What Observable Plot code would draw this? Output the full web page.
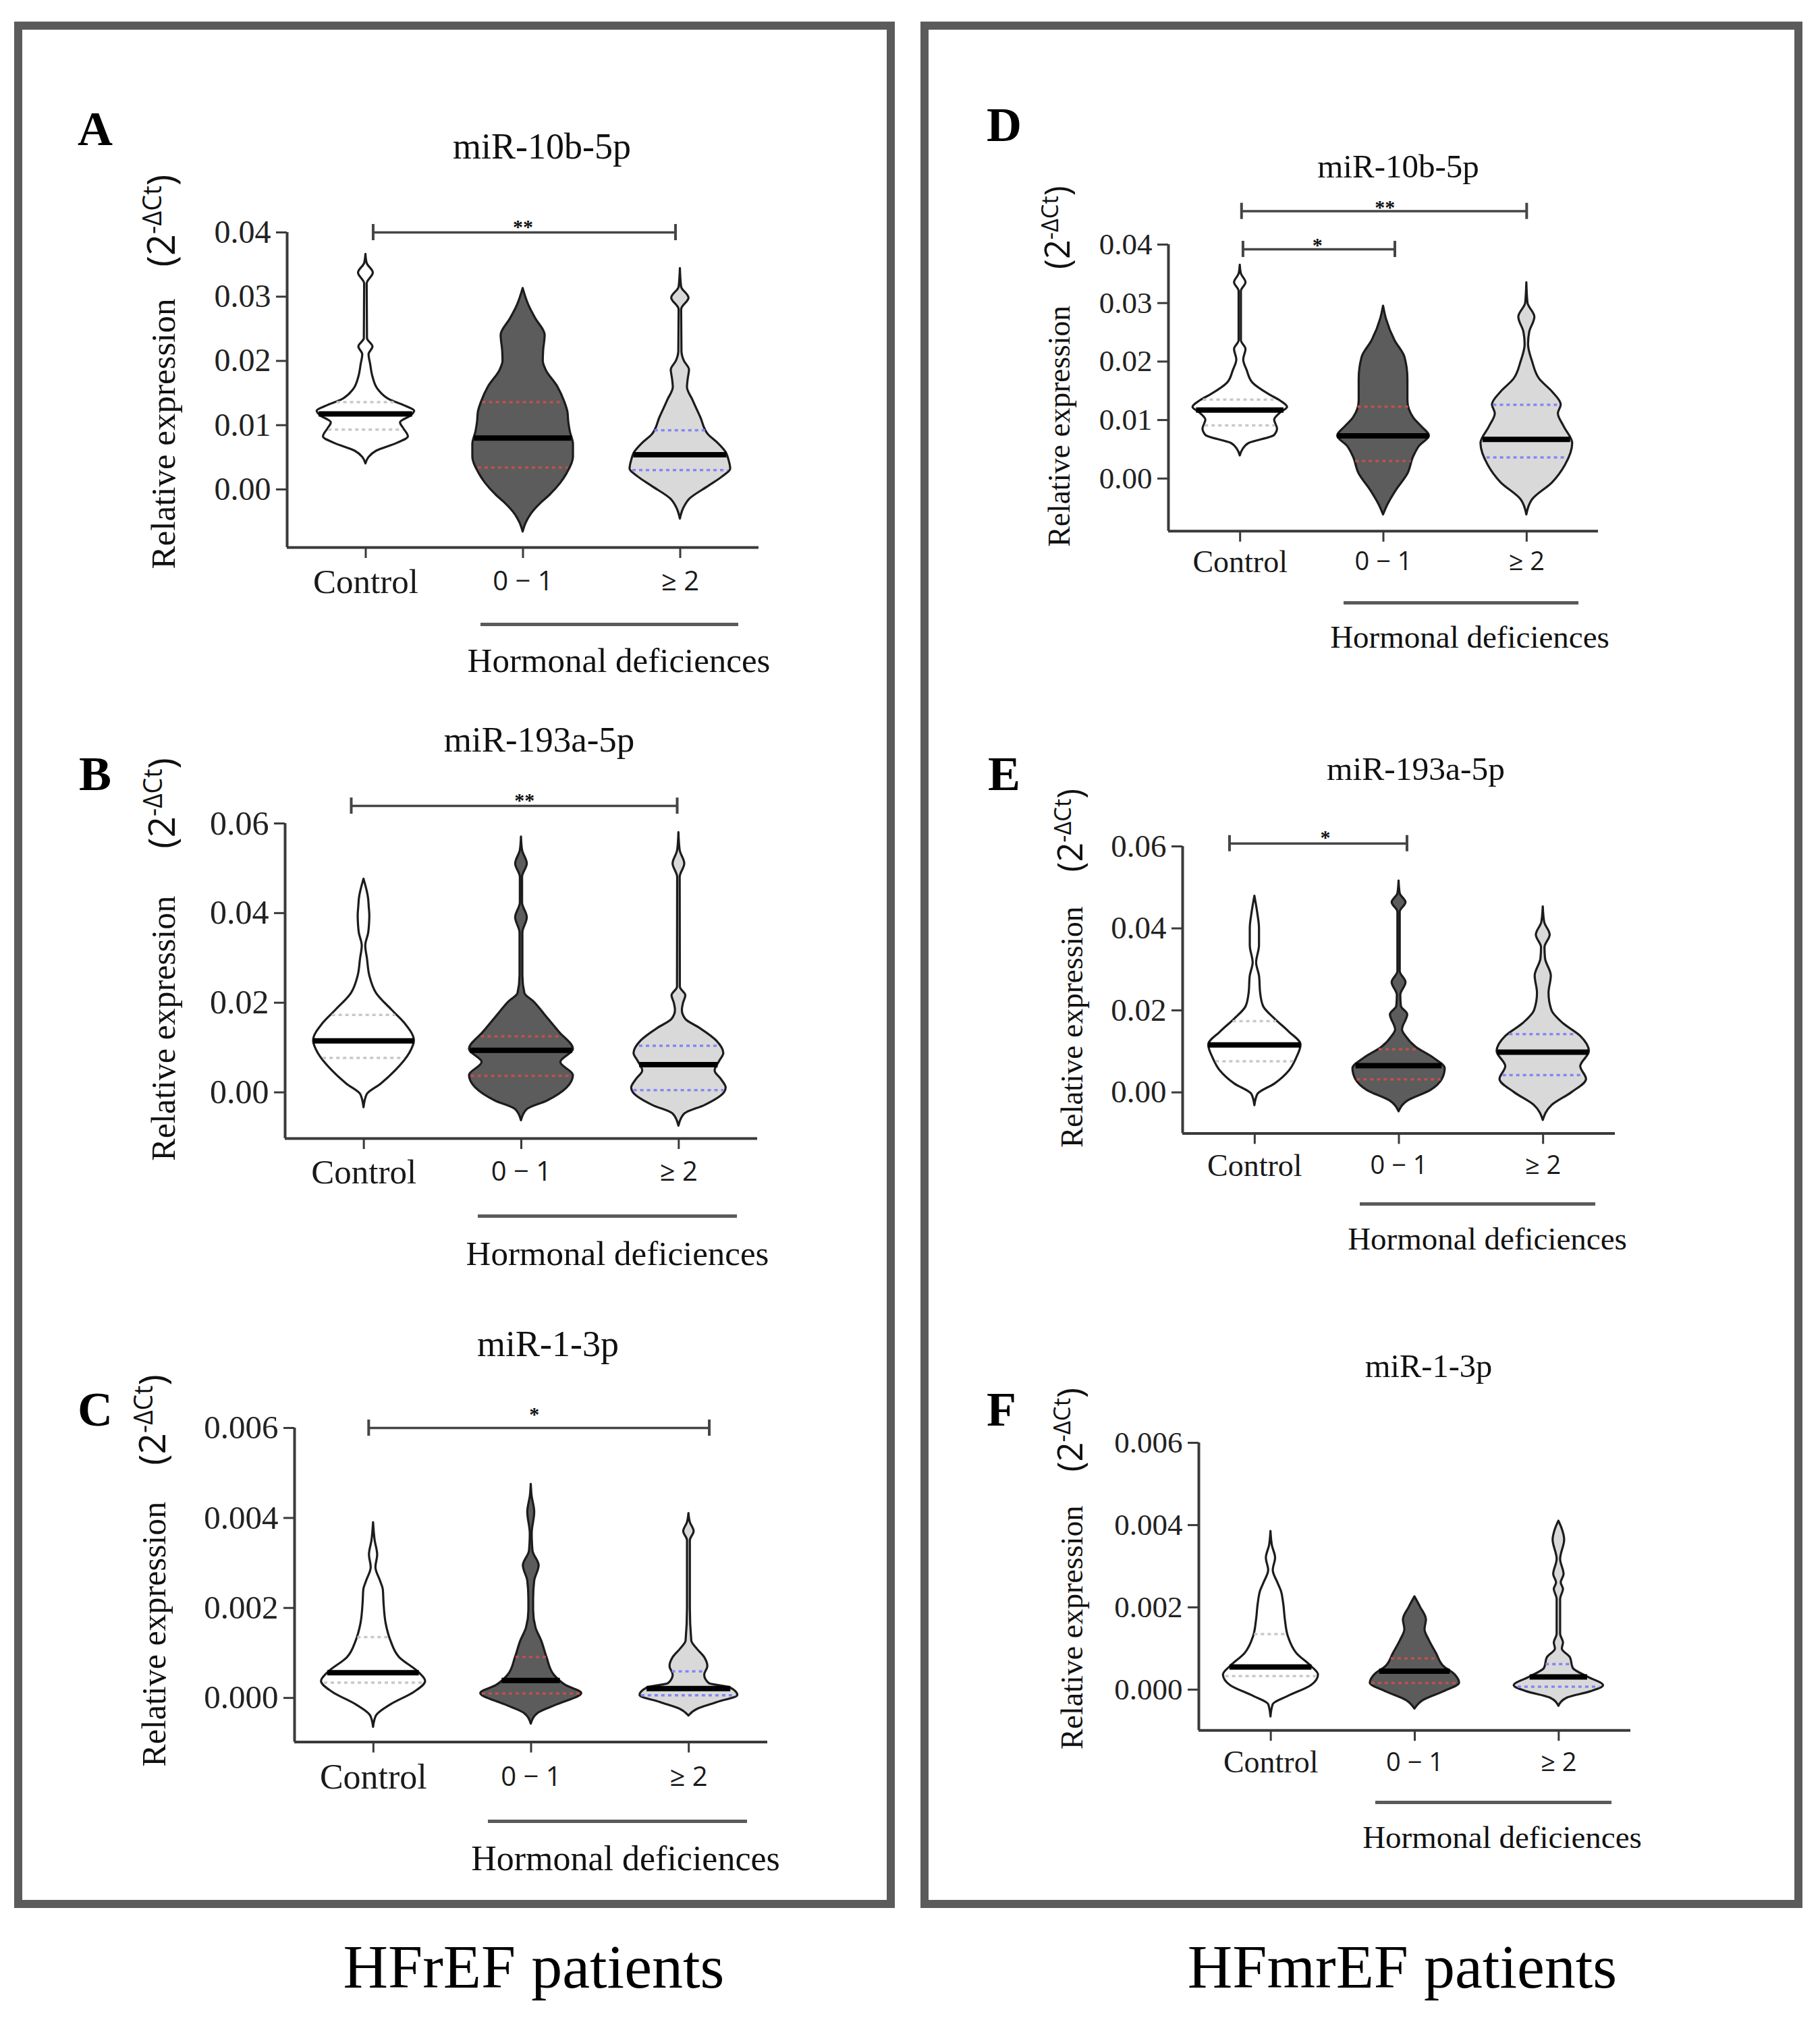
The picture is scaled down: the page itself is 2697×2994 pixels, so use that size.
<!DOCTYPE html>
<html><head><meta charset="utf-8">
<script src="https://cdn.jsdelivr.net/npm/d3@7"></script>
<script src="https://cdn.jsdelivr.net/npm/@observablehq/plot@0.6"></script>
<style>
body{margin:0;background:#fff;}
#page{position:relative;width:2697px;height:2994px;background:#fff;overflow:hidden;}
.lbl{position:absolute;white-space:nowrap;line-height:1;transform:translate(-50%,-50%);color:#111;font-family:'Liberation Serif',serif;}
.box{position:absolute;border:12px solid #5b5b5b;box-sizing:border-box;}
.hline{position:absolute;height:5px;background:#5a5a5a;}
sup{font-size:0.68em;vertical-align:0.5em;line-height:0;}
svg g[aria-label="y-axis tick label"]{font-family:'Liberation Serif',serif;}
</style></head><body><div id="page"></div>
<script>
// ---------- categories ----------
const groups = ["Control", "0 − 1", "≥ 2"];

// ---------- violin outlines: [value, half-width (fraction of category spacing)] ----------
const A_ctrl = [[0.0040,0],[0.0050,0.02],[0.0060,0.07],[0.0072,0.2],[0.0082,0.27],[0.0095,0.24],[0.0104,0.22],[0.0115,0.29],[0.0122,0.31],[0.0130,0.25],[0.0140,0.15],[0.0155,0.08],[0.0175,0.045],[0.0195,0.03],[0.0210,0.02],[0.0222,0.045],[0.0235,0.01],[0.0320,0.008],[0.0337,0.047],[0.0352,0.008],[0.0366,0]];
const A_low = [[-0.0066,0],[-0.0052,0.02],[-0.0039,0.05],[-0.0020,0.12],[-0.0009,0.17],[0.0010,0.24],[0.0025,0.28],[0.0050,0.32],[0.0070,0.32],[0.0090,0.3],[0.0105,0.29],[0.0120,0.285],[0.0136,0.265],[0.0160,0.22],[0.0186,0.146],[0.0200,0.128],[0.0215,0.13],[0.0240,0.14],[0.0266,0.08],[0.0287,0.036],[0.0313,0]];
const A_high = [[-0.0046,0],[-0.0030,0.02],[-0.0015,0.06],[0.0005,0.18],[0.0020,0.27],[0.0032,0.32],[0.0045,0.31],[0.0058,0.29],[0.0072,0.24],[0.0085,0.18],[0.0112,0.13],[0.0139,0.08],[0.0159,0.045],[0.0172,0.05],[0.0186,0.058],[0.0200,0.025],[0.0215,0.01],[0.0280,0.008],[0.0298,0.055],[0.0315,0.008],[0.0344,0]];
const A_median = [0.01175, 0.0080, 0.0054];
const A_q1 = [0.0093, 0.0034, 0.0030];
const A_q3 = [0.0136, 0.0136, 0.0092];
const A_ticks = [0, 0.01, 0.02, 0.03, 0.04];
const A_ymin = -0.00904;
const A_sig = [{x1: 0.047, x2: 1.97, y: 0.04, lx: 1.0, label: "**"}];

const B_ctrl = [[-0.0034,0],[-0.0005,0.02],[0.0019,0.11],[0.0048,0.2],[0.0087,0.29],[0.0115,0.32],[0.0154,0.26],[0.0183,0.18],[0.0221,0.08],[0.0260,0.037],[0.0298,0.022],[0.0327,0.011],[0.0356,0.03],[0.0375,0.035],[0.0394,0.037],[0.0415,0.033],[0.0433,0.029],[0.0476,0]];
const B_low = [[-0.0063,0],[-0.0038,0.037],[-0.0019,0.165],[0.0010,0.29],[0.0038,0.33],[0.0067,0.25],[0.0096,0.33],[0.0135,0.24],[0.0173,0.15],[0.0202,0.08],[0.0221,0.022],[0.0260,0.009],[0.0356,0.009],[0.0390,0.037],[0.0423,0.007],[0.0480,0.007],[0.0510,0.037],[0.0540,0.007],[0.0570,0]];
const B_high = [[-0.0075,0],[-0.0048,0.037],[-0.0029,0.165],[0.0000,0.29],[0.0010,0.3],[0.0029,0.27],[0.0048,0.23],[0.0070,0.26],[0.0087,0.285],[0.0115,0.24],[0.0144,0.13],[0.0163,0.044],[0.0183,0.022],[0.0200,0.03],[0.0216,0.044],[0.0235,0.009],[0.0480,0.008],[0.0510,0.037],[0.0540,0.008],[0.0580,0]];
const B_median = [0.0115, 0.0094, 0.0062];
const B_q1 = [0.0077, 0.0037, 0.0005];
const B_q3 = [0.0173, 0.0125, 0.0104];
const B_ticks = [0, 0.02, 0.04, 0.06];
const B_ymin = -0.0103;
const B_sig = [{x1: -0.08, x2: 1.99, y: 0.0639, lx: 1.02, label: "**"}];

const C_ctrl = [[-0.00065,0],[-0.0004,0.018],[-0.00015,0.11],[0.00013,0.26],[0.00037,0.33],[0.00056,0.29],[0.0009,0.165],[0.00127,0.11],[0.00165,0.08],[0.00213,0.066],[0.0024,0.062],[0.0026,0.044],[0.0029,0.015],[0.00318,0.026],[0.0035,0.01],[0.0039,0]];
const C_low = [[-0.00058,0],[-0.00034,0.044],[-0.00015,0.165],[0.0001,0.32],[0.00028,0.22],[0.00051,0.146],[0.0009,0.1],[0.00127,0.066],[0.00156,0.03],[0.00194,0.015],[0.0022,0.015],[0.0026,0.022],[0.00294,0.05],[0.00327,0.011],[0.00365,0.006],[0.00413,0.022],[0.0045,0.005],[0.00475,0]];
const C_high = [[-0.0004,0],[-0.00025,0.055],[-0.0001,0.18],[0.00006,0.31],[0.00023,0.26],[0.00032,0.13],[0.00051,0.1],[0.0007,0.12],[0.0009,0.1],[0.00108,0.055],[0.00127,0.018],[0.0020,0.009],[0.0035,0.009],[0.0037,0.033],[0.0039,0.009],[0.0041,0]];
const C_median = [0.00056, 0.00039, 0.00021];
const C_q1 = [0.00034, 0.0001, 0.00006];
const C_q3 = [0.00135, 0.00091, 0.00059];
const C_ticks = [0, 0.002, 0.004, 0.006];
const C_ymin = -0.00098;
const C_sig = [{x1: -0.03, x2: 2.13, y: 0.006, lx: 1.02, label: "*"}];

const D_ctrl = [[0.0039,0],[0.0050,0.02],[0.0060,0.06],[0.0074,0.24],[0.0085,0.26],[0.0100,0.24],[0.0112,0.28],[0.0122,0.33],[0.0133,0.28],[0.0144,0.2],[0.0163,0.09],[0.0185,0.048],[0.0203,0.024],[0.0221,0.04],[0.0236,0.008],[0.0320,0.008],[0.0335,0.04],[0.0350,0.008],[0.0365,0]];
const D_low = [[-0.0062,0],[-0.0045,0.03],[-0.0020,0.09],[0.0008,0.17],[0.0037,0.21],[0.0055,0.25],[0.0073,0.32],[0.0088,0.27],[0.0104,0.21],[0.0133,0.17],[0.0170,0.17],[0.0207,0.15],[0.0236,0.08],[0.0273,0.02],[0.0295,0]];
const D_high = [[-0.0062,0],[-0.0036,0.04],[-0.0007,0.18],[0.0023,0.27],[0.0060,0.32],[0.0089,0.26],[0.0111,0.22],[0.0126,0.24],[0.0148,0.18],[0.0170,0.09],[0.0200,0.04],[0.0229,0.012],[0.0250,0.02],[0.0276,0.056],[0.0300,0.008],[0.0335,0]];
const D_median = [0.0117, 0.0073, 0.0067];
const D_q1 = [0.0091, 0.0030, 0.0036];
const D_q3 = [0.0135, 0.0123, 0.0126];
const D_ticks = [0, 0.01, 0.02, 0.03, 0.04];
const D_ymin = -0.009;
const D_sig = [{x1: 0.01, x2: 2.0, y: 0.0457, lx: 1.01, label: "**"}, {x1: 0.02, x2: 1.08, y: 0.0392, lx: 0.54, label: "*"}];

const E_ctrl = [[-0.0032,0],[-0.0005,0.02],[0.0021,0.14],[0.0053,0.24],[0.0084,0.29],[0.0116,0.32],[0.0147,0.24],[0.0179,0.14],[0.0210,0.06],[0.0242,0.04],[0.0284,0.032],[0.0316,0.012],[0.0358,0.032],[0.0400,0.032],[0.0437,0.02],[0.0479,0]];
const E_low = [[-0.0047,0],[-0.0021,0.06],[0.0005,0.22],[0.0032,0.3],[0.0058,0.32],[0.0084,0.24],[0.0110,0.12],[0.0137,0.048],[0.0153,0.024],[0.0190,0.06],[0.0210,0.016],[0.0237,0.012],[0.0268,0.048],[0.0295,0.008],[0.0440,0.008],[0.0463,0.048],[0.0485,0.008],[0.0516,0]];
const E_high = [[-0.0068,0],[-0.0032,0.06],[0.0000,0.2],[0.0032,0.3],[0.0063,0.26],[0.0100,0.32],[0.0137,0.26],[0.0168,0.14],[0.0200,0.06],[0.0242,0.04],[0.0284,0.056],[0.0326,0.016],[0.0353,0.012],[0.0384,0.048],[0.0415,0.01],[0.0453,0]];
const E_median = [0.0116, 0.0065, 0.0098];
const E_q1 = [0.0076, 0.0032, 0.0042];
const E_q3 = [0.0174, 0.0105, 0.0142];
const E_ticks = [0, 0.02, 0.04, 0.06];
const E_ymin = -0.01;
const E_sig = [{x1: -0.175, x2: 1.056, y: 0.0607, lx: 0.49, label: "*"}];

const F_ctrl = [[-0.00066,0],[-0.00036,0.016],[-0.00016,0.12],[0.0001,0.28],[0.00036,0.33],[0.00057,0.28],[0.00088,0.18],[0.0013,0.12],[0.0017,0.1],[0.0021,0.088],[0.0024,0.072],[0.0026,0.048],[0.0029,0.016],[0.0032,0.032],[0.0035,0.01],[0.00385,0]];
const F_low = [[-0.00047,0],[-0.00026,0.06],[-0.00005,0.2],[0.00016,0.31],[0.00036,0.28],[0.00057,0.2],[0.00088,0.15],[0.0012,0.1],[0.00146,0.07],[0.0017,0.08],[0.0020,0.04],[0.00226,0]];
const F_high = [[-0.0004,0],[-0.0002,0.06],[-0.00005,0.22],[0.0001,0.31],[0.00031,0.2],[0.00052,0.1],[0.00078,0.08],[0.00099,0.024],[0.00114,0.032],[0.00135,0.012],[0.0022,0.012],[0.00244,0.032],[0.0026,0.016],[0.0028,0.036],[0.00317,0.012],[0.00364,0.04],[0.0039,0.024],[0.0041,0]];
const F_median = [0.00055, 0.00045, 0.00031];
const F_q1 = [0.00033, 0.00016, 0.00007];
const F_q3 = [0.00135, 0.00076, 0.00062];
const F_ticks = [0, 0.002, 0.004, 0.006];
const F_ymin = -0.00099;
const F_sig = [];

const titles = {A: "miR-10b-5p", B: "miR-193a-5p", C: "miR-1-3p", D: "miR-10b-5p", E: "miR-193a-5p", F: "miR-1-3p"};
const groupTitle = "Hormonal deficiences";
const yLabel = "Relative expression";
const cohortTitles = ["HFrEF patients", "HFmrEF patients"];

// ---------- layout (pixels) ----------
const layout = {
  A: {L:425, R:1124, T:344, B:811, letter:[141,191], title:[803,217,54], ylab:[238,551,51,47], horm:[712,1094,925,917,979,51], yf:48, xf:51, sf:40, xlab:51, sdy:-8, fmt:".2f"},
  B: {L:422, R:1122, T:1220, B:1687, letter:[141,1147], title:[799,1096,53], ylab:[238,1422,50,70], horm:[708,1092,1802,915,1858,51], yf:50, xf:51, sf:40, xlab:50, sdy:-8, fmt:".2f"},
  C: {L:436, R:1137, T:2116, B:2581.5, letter:[141,2089], title:[812,1992,54], ylab:[224,2328,50,54], horm:[723,1107,2699,927,2755,52], yf:49, xf:52, sf:40, xlab:52, sdy:-20, fmt:".3f"},
  D: {L:1731, R:2368, T:361.6, B:786.4, letter:[1488,185], title:[2072,245.5,49], ylab:[1567,543,45.5,54], horm:[1991,2339,893,2178,944,47], yf:45, xf:46, sf:38, xlab:46, sdy:-6, fmt:".2f"},
  E: {L:1752, R:2393, T:1253.8, B:1679.2, letter:[1488,1147], title:[2098,1140,49.5], ylab:[1586,1435,45.5,51], horm:[2015,2364,1784,2204,1836,47], yf:47, xf:46, sf:38, xlab:48, sdy:-9, fmt:".2f"},
  F: {L:1776, R:2416, T:2138.2, B:2564.4, letter:[1484,2089], title:[2117,2025,48.5], ylab:[1585,2325,46,50], horm:[2038,2388,2671,2226,2723,47], yf:45, xf:46, sf:38, xlab:48, sdy:-8, fmt:".3f"}
};

const panels = {
  A: {ctrl:A_ctrl, low:A_low, high:A_high, median:A_median, q1:A_q1, q3:A_q3, ticks:A_ticks, ymin:A_ymin, sig:A_sig},
  B: {ctrl:B_ctrl, low:B_low, high:B_high, median:B_median, q1:B_q1, q3:B_q3, ticks:B_ticks, ymin:B_ymin, sig:B_sig},
  C: {ctrl:C_ctrl, low:C_low, high:C_high, median:C_median, q1:C_q1, q3:C_q3, ticks:C_ticks, ymin:C_ymin, sig:C_sig},
  D: {ctrl:D_ctrl, low:D_low, high:D_high, median:D_median, q1:D_q1, q3:D_q3, ticks:D_ticks, ymin:D_ymin, sig:D_sig},
  E: {ctrl:E_ctrl, low:E_low, high:E_high, median:E_median, q1:E_q1, q3:E_q3, ticks:E_ticks, ymin:E_ymin, sig:E_sig},
  F: {ctrl:F_ctrl, low:F_low, high:F_high, median:F_median, q1:F_q1, q3:F_q3, ticks:F_ticks, ymin:F_ymin, sig:F_sig}
};

const fills = ["#ffffff", "#5c5c5c", "#d9d9d9"];
const qColors = ["#c8c8c8", "#c0504d", "#8585f5"];
const page = document.getElementById("page");

function widthAt(prof, v) {
  for (let k = 0; k < prof.length - 1; k++) {
    const [v0, w0] = prof[k], [v1, w1] = prof[k + 1];
    if (v >= v0 && v <= v1) return w0 + (w1 - w0) * (v - v0) / (v1 - v0);
  }
  return 0;
}

function addLabel(html, x, y, css) {
  const d = document.createElement("div");
  d.className = "lbl";
  d.innerHTML = html;
  d.style.left = x + "px";
  d.style.top = y + "px";
  Object.assign(d.style, css || {});
  page.appendChild(d);
  return d;
}

function drawPanel(id) {
  const p = panels[id], L = layout[id];
  const mL = 200, mR = 60, mT = 150, mB = 160;
  const W = (L.R - L.L) + mL + mR;
  const H = (L.B - L.T) + mT + mB;
  const ytop = p.ticks[p.ticks.length - 1];
  const profs = [p.ctrl, p.low, p.high];
  const marks = [];
  profs.forEach((prof, i) => {
    marks.push(Plot.areaX(prof, {y: d => d[0], x1: d => i - d[1], x2: d => i + d[1], curve: "monotone-y", fill: fills[i], stroke: "#1c1c1c", strokeWidth: 3.2}));
    const qs = [p.q1[i], p.q3[i]].map(v => ({v, w: widthAt(prof, v) * 0.97}));
    marks.push(Plot.ruleY(qs, {y: "v", x1: d => i - d.w, x2: d => i + d.w, stroke: qColors[i], strokeWidth: 3.5, strokeDasharray: "5,5"}));
    const m = {v: p.median[i], w: widthAt(prof, p.median[i])};
    marks.push(Plot.ruleY([m], {y: "v", x1: d => i - d.w, x2: d => i + d.w, stroke: "#000", strokeWidth: 8}));
  });
  // axes
  marks.push(Plot.ruleX([-0.5], {y1: p.ymin, y2: ytop, stroke: "#3a3a3a", strokeWidth: 4}));
  marks.push(Plot.ruleY([p.ymin], {x1: -0.5, x2: 2.5, stroke: "#3a3a3a", strokeWidth: 4}));
  marks.push(Plot.axisY({ticks: p.ticks, tickFormat: d3.format(L.fmt), tickSize: 16, tickPadding: 8, fontSize: L.yf, fontFamily: "Liberation Serif", fontVariant: "normal", stroke: "#3a3a3a", strokeWidth: 3, label: null}));
  marks.push(Plot.axisX({ticks: [0, 1, 2], tickFormat: () => "", tickSize: 16, stroke: "#3a3a3a", strokeWidth: 3, label: null}));
  marks.push(Plot.text([0], {x: d => d, y: p.ymin, text: d => groups[d], dy: L.xlab, fontSize: L.xf, fontFamily: "Liberation Serif", fill: "#1a1a1a"}));
  marks.push(Plot.text([1, 2], {x: d => d, y: p.ymin, text: d => groups[d], dy: L.xlab, fontSize: L.sf, fontFamily: "Open Sans", fill: "#1a1a1a"}));
  // significance brackets
  if (p.sig.length) {
    marks.push(Plot.ruleY(p.sig, {y: "y", x1: "x1", x2: "x2", stroke: "#454545", strokeWidth: 3.5}));
    const ends = p.sig.flatMap(s => [{x: s.x1, y: s.y}, {x: s.x2, y: s.y}]);
    marks.push(Plot.ruleX(ends, {x: "x", y1: "y", y2: "y", insetTop: -12, insetBottom: -12, stroke: "#454545", strokeWidth: 4}));
    marks.push(Plot.text(p.sig, {x: "lx", y: "y", text: "label", dy: L.sdy, fontSize: 30, fontFamily: "Liberation Serif", fontWeight: "bold", fill: "#111"}));
  }
  const svg = Plot.plot({
    width: W, height: H,
    marginLeft: mL, marginRight: mR, marginTop: mT, marginBottom: mB,
    x: {type: "linear", domain: [-0.5, 2.5]},
    y: {type: "linear", domain: [p.ymin, ytop]},
    style: {fontFamily: "'Liberation Serif', serif", color: "#222", background: "none", overflow: "visible"},
    marks
  });
  svg.style.position = "absolute";
  svg.style.left = (L.L - mL) + "px";
  svg.style.top = (L.T - mT) + "px";
  svg.style.maxWidth = "none";
  page.appendChild(svg);

  // panel texts
  addLabel(id, L.letter[0], L.letter[1], {fontSize: "72px", fontWeight: "bold", color: "#000"});
  addLabel(titles[id], L.title[0], L.title[1], {fontSize: L.title[2] + "px"});
  addLabel(`${yLabel}<span style="font-family:'Open Sans';font-size:${L.ylab[2] + 5}px;margin-left:${L.ylab[3]}px">(2<sup>-ΔCt</sup>)</span>`,
    L.ylab[0], L.ylab[1], {fontSize: L.ylab[2] + "px", transform: "translate(-50%,-50%) rotate(-90deg)"});
  const h = L.horm;
  const ln = document.createElement("div");
  ln.className = "hline";
  ln.style.left = h[0] + "px"; ln.style.width = (h[1] - h[0]) + "px"; ln.style.top = (h[2] - 2.5) + "px";
  page.appendChild(ln);
  addLabel(groupTitle, h[3], h[4], {fontSize: h[5] + "px"});
}

// frames
[[21, 1305], [1364, 1307]].forEach(([x, w]) => {
  const b = document.createElement("div");
  b.className = "box";
  b.style.left = x + "px"; b.style.top = "32px"; b.style.width = w + "px"; b.style.height = "2796px";
  page.appendChild(b);
});

["A", "B", "C", "D", "E", "F"].forEach(drawPanel);

addLabel(cohortTitles[0], 791, 2915, {fontSize: "92px", color: "#000"});
addLabel(cohortTitles[1], 2078, 2915, {fontSize: "92px", color: "#000"});
</script></body></html>
